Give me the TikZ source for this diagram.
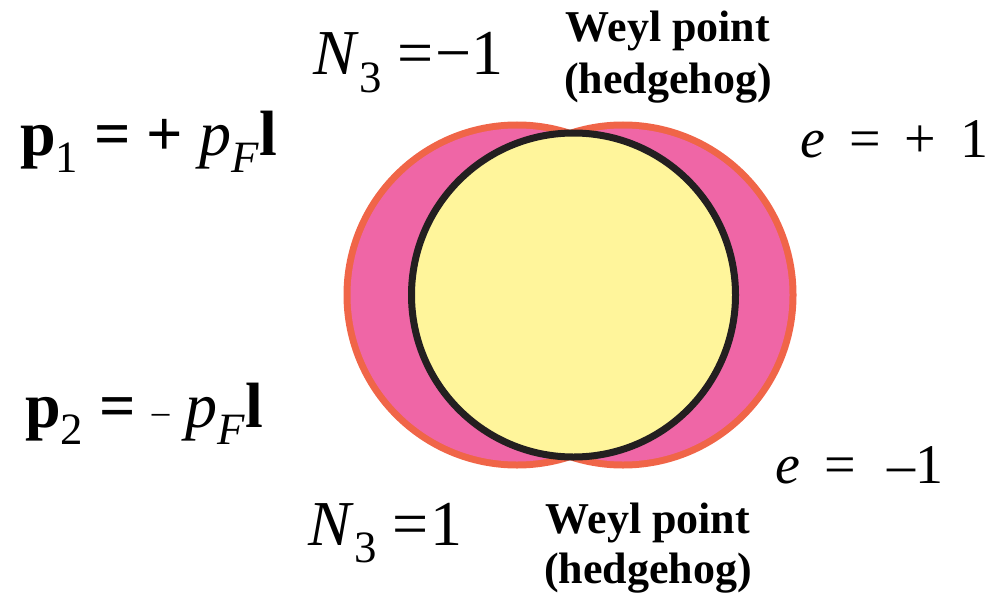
\documentclass[tikz,border=0pt]{standalone}
\usepackage{fontspec}
\setmainfont{Liberation Serif}
\usepackage{graphicx}
\usetikzlibrary{positioning}
\definecolor{rimorange}{RGB}{240,101,72}
\definecolor{lobepink}{RGB}{239,102,166}
\definecolor{coreyellow}{RGB}{255,245,155}
\definecolor{coreblack}{RGB}{35,31,32}
\newcommand{\lowsub}[1]{\raisebox{-0.27em}{\scalebox{0.7}{#1}}}

\begin{document}
\begin{tikzpicture}[x=1pt, y=1pt,
  rim/.style={draw=rimorange, line width=7pt},
  lobe/.style={fill=lobepink},
  core/.style={fill=coreyellow, draw=coreblack, line width=3.5pt},
  lbl/.style={anchor=base west, inner sep=0pt},
  weyl/.style={anchor=base, inner sep=0pt, font=\fontsize{22}{26}\selectfont\bfseries}]
  \useasboundingbox (0,0) rectangle (497,-299.5);

  % shifted Fermi spheres
  \coordinate (c1) at (258.5,-147.5);
  \coordinate (c2) at (311.5,-147.5);
  \coordinate (c0) at (286.75,-147.5);
  \draw[rim] (c1) circle[radius=83.25pt] (c2) circle[radius=83.25pt];
  \fill[lobe] (c1) circle[radius=83.25pt] (c2) circle[radius=83.25pt];
  \draw[core] (c0) circle[radius=81pt];

  % momenta
  \node[lbl, font=\fontsize{32}{38}\selectfont] (p1) at (10,-77.5)
    {\textbf{p}\lowsub{1} \textbf{= +} \textit{p}\lowsub{\textit{F}}\textbf{l}};
  \node[lbl, font=\fontsize{32}{38}\selectfont] (p2) at (12.5,-213.5)
    {\textbf{p}\lowsub{2} \textbf{=} \raisebox{0.06em}{\scalebox{0.55}{\textendash}}\ \textit{p}\lowsub{\textit{F}}\textbf{l}};

  % topological charges
  \node[lbl, font=\fontsize{32}{38}\selectfont] (ntop) at (156.5,-37.5)
    {\textit{N}\lowsub{3} =\hspace{1pt}−1};
  \node[lbl, font=\fontsize{32}{38}\selectfont] (nbot) at (154,-272.5)
    {\textit{N}\lowsub{3} =\hspace{1pt}1};

  % Weyl points
  \node[weyl] (wtopa) at (334,-21) {Weyl point};
  \node[weyl] (wtopb) at (334,-46.5) {(hedgehog)};
  \node[weyl] (wbota) at (324,-266.5) {Weyl point};
  \node[weyl] (wbotb) at (324,-291.5) {(hedgehog)};

  % charges e
  \node[lbl, font=\fontsize{28}{32}\selectfont] (eplus) at (400,-78.5)
    {\textit{e}\hspace{12pt}=\hspace{12pt}+\hspace{12pt}1};
  \node[lbl, font=\fontsize{28}{32}\selectfont] (eminus) at (387.5,-241.5)
    {\textit{e}\hspace{12pt}=\hspace{16pt}\textendash1};
\end{tikzpicture}
\end{document}
